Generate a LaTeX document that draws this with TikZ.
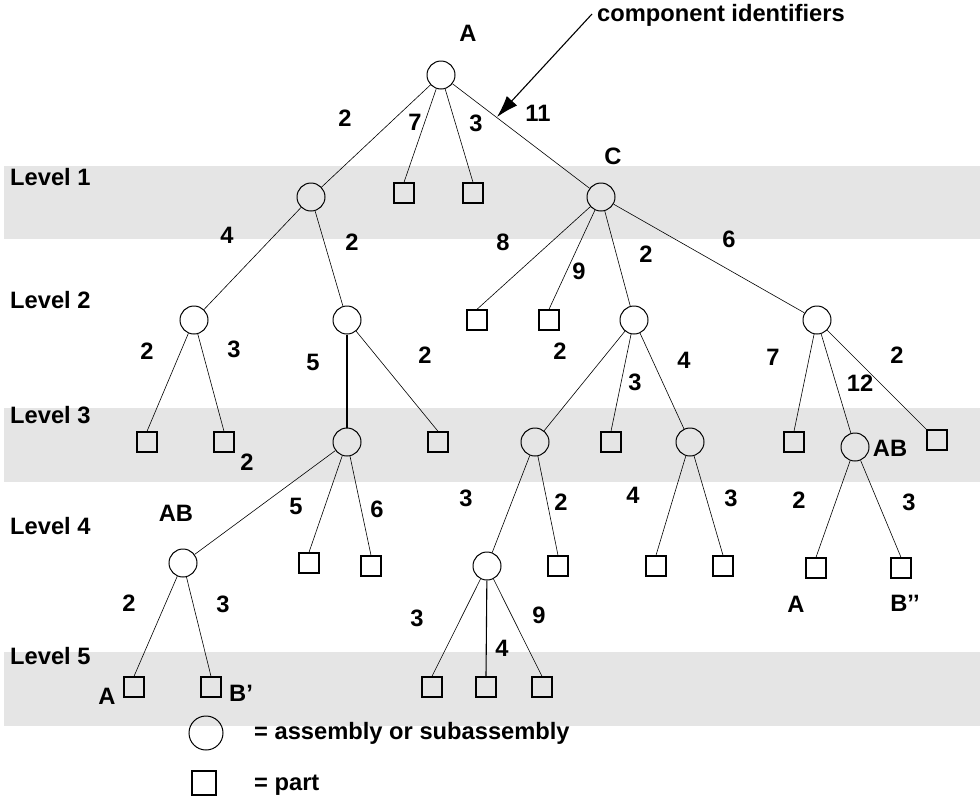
\documentclass[tikz,border=0pt]{standalone}
\usepackage{fontspec}
\setmainfont{Liberation Sans}
\usetikzlibrary{arrows.meta}
\definecolor{bandgray}{RGB}{229,229,229}
\begin{document}
\begin{tikzpicture}[x=1pt,y=-1pt,
  asm/.style={circle,draw,line width=1pt,minimum size=28pt,inner sep=0pt},
  prt/.style={rectangle,draw,line width=1.4pt,minimum size=20pt,inner sep=0pt},
  edge/.style={line width=0.6pt},
  thickedge/.style={line width=1.1pt},
  lbl/.style={inner sep=0pt,font=\fontsize{23.7}{28}\selectfont\bfseries},
  lvl/.style={inner sep=0pt,anchor=base west,font=\fontsize{23.7}{28}\selectfont\bfseries}]
\useasboundingbox (0,0) rectangle (980,804);
% bands
\fill[bandgray] (4,166) rectangle (980,239);
\fill[bandgray] (4,408) rectangle (980,482);
\fill[bandgray] (4,652) rectangle (980,726);
% level labels
\node[lvl] (l1) at (10,185) {Level 1};
\node[lvl] (l2) at (10,308) {Level 2};
\node[lvl] (l3) at (10,423) {Level 3};
\node[lvl] (l4) at (10,534) {Level 4};
\node[lvl] (l5) at (10,664) {Level 5};
% assemblies
\node[asm] (r0) at (441,75) {};
\node[asm] (a1) at (311,197) {};
\node[asm] (c1) at (601,197) {};
\node[asm] (a2) at (194,320) {};
\node[asm] (b2) at (347,320) {};
\node[asm] (c2) at (634,320) {};
\node[asm] (d2) at (817,320) {};
\node[asm] (a3) at (347,442) {};
\node[asm] (b3) at (535,442) {};
\node[asm] (c3) at (690,442) {};
\node[asm] (d3) at (855,447) {};
\node[asm] (a4) at (183,563) {};
\node[asm] (b4) at (487,566) {};
% parts
\node[prt] (s11) at (404,193) {};
\node[prt] (s12) at (473,193) {};
\node[prt] (s21) at (477,320) {};
\node[prt] (s22) at (549,320) {};
\node[prt] (s31) at (147,442) {};
\node[prt] (s32) at (224,442) {};
\node[prt] (s33) at (438,442) {};
\node[prt] (s34) at (611,442) {};
\node[prt] (s35) at (794,442) {};
\node[prt] (s36) at (937,440) {};
\node[prt] (s41) at (309,563) {};
\node[prt] (s42) at (371,566) {};
\node[prt] (s43) at (558,566) {};
\node[prt] (s44) at (656,566) {};
\node[prt] (s45) at (723,566) {};
\node[prt] (s46) at (816,568) {};
\node[prt] (s47) at (901,568) {};
\node[prt] (s51) at (134,687) {};
\node[prt] (s52) at (211,687) {};
\node[prt] (s53) at (432,687) {};
\node[prt] (s54) at (486,687) {};
\node[prt] (s55) at (542,687) {};
% edges
\draw[edge] (r0) -- (a1);
\draw[edge] (r0) -- (s11.north);
\draw[edge] (r0) -- (s12.north);
\draw[edge] (r0) -- (c1);
\draw[edge] (a1) -- (a2);
\draw[edge] (a1) -- (b2);
\draw[edge] (c1) -- (s21.north);
\draw[edge] (c1) -- (s22.north);
\draw[edge] (c1) -- (c2);
\draw[edge] (c1) -- (d2);
\draw[edge] (a2) -- (s31.north);
\draw[edge] (a2) -- (s32.north);
\draw[thickedge] (b2) -- (a3);
\draw[edge] (b2) -- (s33.north);
\draw[edge] (c2) -- (b3);
\draw[edge] (c2) -- (s34.north);
\draw[edge] (c2) -- (c3);
\draw[edge] (d2) -- (s35.north);
\draw[edge] (d2) -- (d3);
\draw[edge] (d2) -- (s36.north west);
\draw[edge] (a3) -- (a4);
\draw[edge] (a3) -- (s41.north);
\draw[edge] (a3) -- (s42.north);
\draw[edge] (b3) -- (b4);
\draw[edge] (b3) -- (s43.north);
\draw[edge] (c3) -- (s44.north);
\draw[edge] (c3) -- (s45.north);
\draw[edge] (d3) -- (s46.north);
\draw[edge] (d3) -- (s47.north);
\draw[edge] (a4) -- (s51.north);
\draw[edge] (a4) -- (s52.north);
\draw[edge] (b4) -- (s53.north);
\draw[thickedge] (b4) -- (s54.north);
\draw[edge] (b4) -- (s55.north);
% component identifiers
\node[lbl,anchor=base west] (ci) at (597,21) {component identifiers};
\coordinate (cistart) at (592,14);
\coordinate (citip) at (497,117);
\draw[line width=1.1pt,-{Latex[length=22pt,width=14pt]}] (cistart) -- (citip);
% labels
\node[lbl] (tA) at (468,33) {A};
\node[lbl] (tC) at (613,156) {C};
\node[lbl] (e1) at (345,118) {2};
\node[lbl] (e2) at (415,122) {7};
\node[lbl] (e3) at (476,123) {3};
\node[lbl] (e4) at (538,113) {11};
\node[lbl] (e5) at (227,235) {4};
\node[lbl] (e6) at (352,242) {2};
\node[lbl] (e7) at (503,242) {8};
\node[lbl] (e8) at (579,271) {9};
\node[lbl] (e9) at (646,254) {2};
\node[lbl] (e10) at (729,239) {6};
\node[lbl] (e11) at (147,351) {2};
\node[lbl] (e12) at (234,349) {3};
\node[lbl] (e13) at (247,462) {2};
\node[lbl] (e14) at (313,362) {5};
\node[lbl] (e15) at (425,355) {2};
\node[lbl] (e16) at (560,351) {2};
\node[lbl] (e17) at (635,382) {3};
\node[lbl] (e18) at (684,360) {4};
\node[lbl] (e19) at (773,357) {7};
\node[lbl] (e20) at (860,383) {12};
\node[lbl] (e21) at (897,355) {2};
\node[lbl] (tAB1) at (890,448) {AB};
\node[lbl] (tAB2) at (176,513) {AB};
\node[lbl] (e22) at (296,506) {5};
\node[lbl] (e23) at (377,509) {6};
\node[lbl] (e24) at (466,498) {3};
\node[lbl] (e25) at (561,502) {2};
\node[lbl] (e26) at (633,495) {4};
\node[lbl] (e27) at (731,498) {3};
\node[lbl] (e28) at (799,500) {2};
\node[lbl] (e29) at (909,502) {3};
\node[lbl] (tA2) at (796,604) {A};
\node[lbl] (tB2) at (905,603) {B’’};
\node[lbl] (e30) at (129,603) {2};
\node[lbl] (e31) at (223,604) {3};
\node[lbl] (tA3) at (107,696) {A};
\node[lbl] (tB1) at (241,693) {B’};
\node[lbl] (e32) at (417,618) {3};
\node[lbl] (e33) at (502,648) {4};
\node[lbl] (e34) at (539,615) {9};
% legend
\node[asm,minimum size=34pt] (legc) at (206,733) {};
\node[lbl,anchor=base west] (legct) at (254,739) {= assembly or subassembly};
\node[prt,minimum size=24pt] (legs) at (204,783) {};
\node[lbl,anchor=base west] (legst) at (254,790) {= part};
\end{tikzpicture}
\end{document}
